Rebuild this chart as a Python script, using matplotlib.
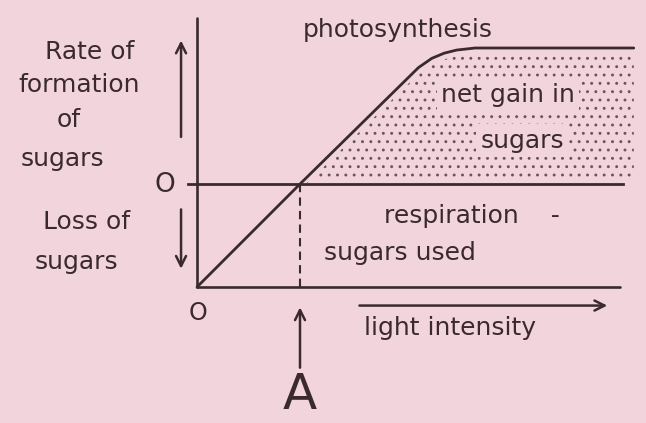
import matplotlib.pyplot as plt
import numpy as np

# light intensity (A = compensation point = 1) and rate of sugar formation
light = [0, 1.0, 2.15, 2.28, 2.40, 2.52, 2.70, 4.24]
photosynthesis = [0, 1.0, 2.13, 2.22, 2.27, 2.30, 2.32, 2.32]
respiration_x = [-0.09, 4.14]
respiration = [1.0, 1.0]
compensation = 1.0

bg = '#f2d4dd'
ink = '#3a2a2e'

plt.rcParams['hatch.linewidth'] = 0.9
plt.rcParams['font.family'] = ['DejaVu Sans']

fig = plt.figure(figsize=(6.46, 4.23), dpi=100, facecolor=bg)
ax = fig.add_axes([0, 0, 1, 1])
ax.set_facecolor(bg)
ax.set_xlim(-1.9126, 4.359)
ax.set_ylim(-1.320, 2.786)
ax.axis('off')

# stippled area where photosynthesis exceeds respiration
x = np.array(light)
y = np.array(photosynthesis)
ax.fill_between(x, 1.03, y - 0.06, where=x >= compensation, interpolate=True,
                facecolor='none', edgecolor='#6a5458', hatch='..', linewidth=0)

# axes drawn by hand
ax.plot([0, 0], [0, 2.61], color=ink, lw=1.9, solid_capstyle='round')
ax.plot([0, 4.11], [0, 0], color=ink, lw=1.9, solid_capstyle='round')

# curves
ax.plot(light, photosynthesis, color=ink, lw=2.0, solid_capstyle='round',
        solid_joinstyle='round')
ax.plot(respiration_x, respiration, color=ink, lw=2.0)
ax.plot([compensation, compensation], [0, 1.0], color=ink, lw=1.5,
        dashes=(4, 2.5))

arrow = dict(arrowstyle='->', color=ink, lw=1.8, mutation_scale=18)
ax.annotate('', xy=(-0.155, 2.42), xytext=(-0.155, 1.43), arrowprops=arrow)
ax.annotate('', xy=(-0.155, 0.15), xytext=(-0.155, 0.78), arrowprops=arrow)
ax.annotate('', xy=(4.01, -0.18), xytext=(1.55, -0.18), arrowprops=arrow)
ax.annotate('', xy=(compensation, -0.17), xytext=(compensation, -0.81),
            arrowprops=arrow)

fs = 18
t = dict(color=ink, fontsize=fs, ha='center', va='center')
ax.text(-1.04, 2.28, 'Rate of', **t)
ax.text(-1.14, 1.96, 'formation', **t)
ax.text(-1.25, 1.62, 'of', **t)
ax.text(-1.31, 1.24, 'sugars', **t)
ax.text(-0.31, 0.99, 'O', color=ink, fontsize=19, ha='center', va='center')
ax.text(-1.07, 0.63, 'Loss of', **t)
ax.text(-1.17, 0.24, 'sugars', **t)
ax.text(0.01, -0.25, 'O', color=ink, fontsize=17, ha='center', va='center')

ax.text(1.95, 2.49, 'photosynthesis', **t)
clear = dict(facecolor=bg, edgecolor='none', pad=3)
ax.text(3.02, 1.86, 'net gain in', bbox=clear, **t)
ax.text(3.16, 1.42, 'sugars', bbox=clear, **t)
ax.text(2.67, 0.69, 'respiration    -', **t)
ax.text(1.97, 0.33, 'sugars used', **t)
ax.text(2.46, -0.40, 'light intensity', **t)
ax.text(compensation, -1.05, 'A', color=ink, fontsize=36, ha='center',
        va='center')

fig.savefig('out.png', dpi=100, facecolor=bg)
